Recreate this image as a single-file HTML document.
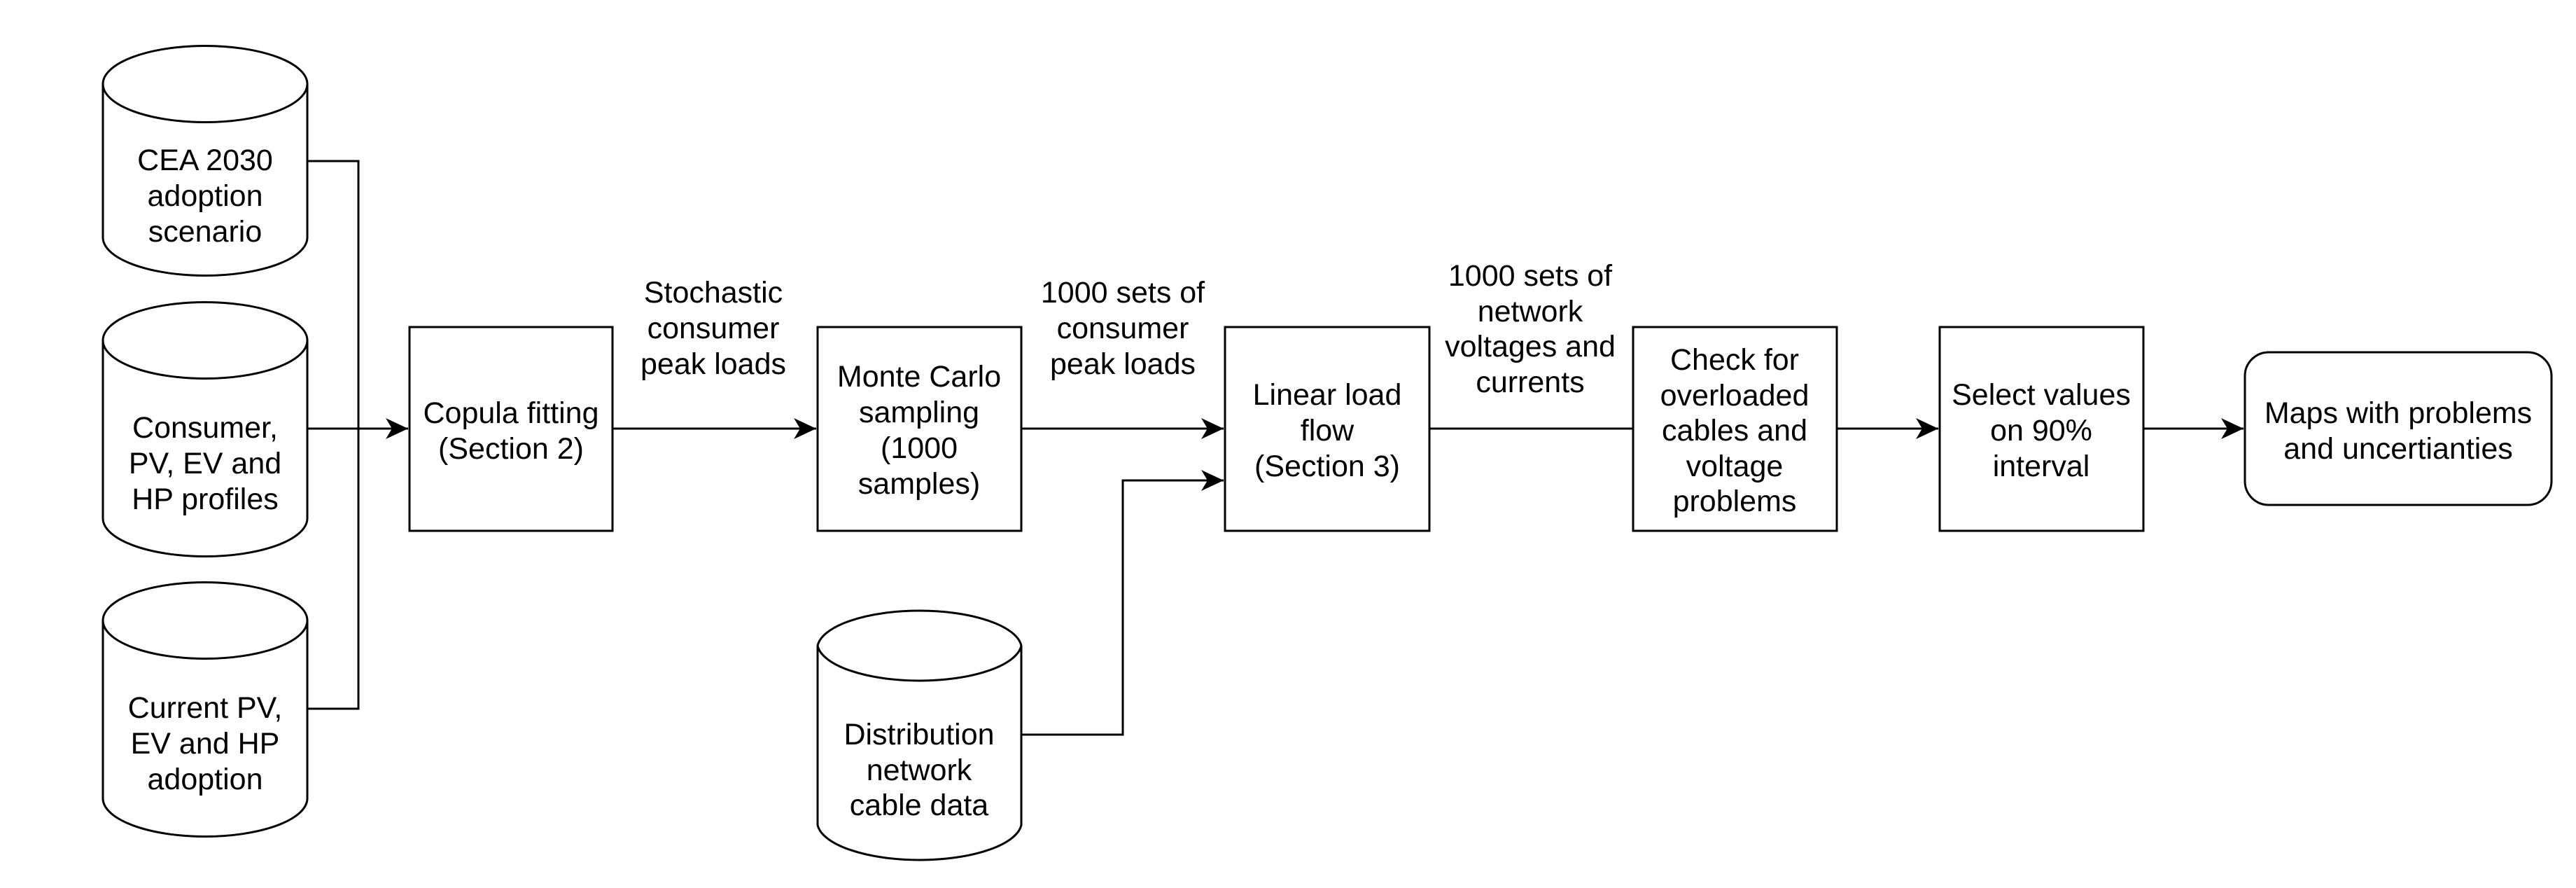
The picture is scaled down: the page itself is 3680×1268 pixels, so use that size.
<!DOCTYPE html>
<html><head><meta charset="utf-8"><style>
html,body{margin:0;padding:0;background:#fff;}
svg{display:block;}
text{font-family:"Liberation Sans",Arial,sans-serif;font-size:43px;fill:#000;text-anchor:middle;dominant-baseline:central;}
</style></head><body>
<svg width="3680" height="1268" viewBox="0 0 3680 1268" xmlns="http://www.w3.org/2000/svg">
<defs>
<marker id="a" markerUnits="userSpaceOnUse" markerWidth="34" markerHeight="30" refX="32" refY="15" orient="auto">
<path d="M0,0 L32,15 L0,30 L9,15 Z" fill="#000"/>
</marker>
</defs>
<g fill="#fff" stroke="#000" stroke-width="3">
<!-- cylinders -->
<path d="M147,120 A146,54.5 0 0 1 439,120 L439,339 A146,54.5 0 0 1 147,339 Z"/>
<path d="M147,120 A146,54.5 0 0 0 439,120"/>
<path d="M147,486 A146,54.5 0 0 1 439,486 L439,740 A146,54.5 0 0 1 147,740 Z"/>
<path d="M147,486 A146,54.5 0 0 0 439,486"/>
<path d="M147,886 A146,54.5 0 0 1 439,886 L439,1140 A146,54.5 0 0 1 147,1140 Z"/>
<path d="M147,886 A146,54.5 0 0 0 439,886"/>
<path d="M1168,922 A146,54.5 0 0 1 1459,922 L1459,1178 A146,54.5 0 0 1 1168,1178 Z"/>
<path d="M1168,922 A146,54.5 0 0 0 1459,922"/>
<!-- boxes -->
<rect x="585" y="467" width="290" height="291"/>
<rect x="1168" y="467" width="291" height="291"/>
<rect x="1750" y="467" width="292" height="291"/>
<rect x="2333" y="467" width="291" height="291"/>
<rect x="2771" y="467" width="291" height="291"/>
<rect x="3207" y="503" width="438" height="218" rx="34" ry="34"/>
</g>
<g fill="none" stroke="#000" stroke-width="3">
<path d="M439,230 H512 V1012 H439"/>
<path d="M439,612 H583" marker-end="url(#a)"/>
<path d="M875,612 H1166" marker-end="url(#a)"/>
<path d="M1459,612 H1748" marker-end="url(#a)"/>
<path d="M1459,1049 H1604 V686 H1748" marker-end="url(#a)"/>
<path d="M2042,612 H2333"/>
<path d="M2624,612 H2769" marker-end="url(#a)"/>
<path d="M3062,612 H3205" marker-end="url(#a)"/>
</g>
<text x="293" y="229">CEA 2030</text><text x="293" y="280">adoption</text><text x="293" y="331">scenario</text>
<text x="293" y="611">Consumer,</text><text x="293" y="662">PV, EV and</text><text x="293" y="713">HP profiles</text>
<text x="293" y="1011">Current PV,</text><text x="293" y="1062">EV and HP</text><text x="293" y="1113">adoption</text>
<text x="1313" y="1049">Distribution</text><text x="1313" y="1100">network</text><text x="1313" y="1150">cable data</text>
<text x="730" y="590">Copula fitting</text><text x="730" y="641">(Section 2)</text>
<text x="1313" y="538">Monte Carlo</text><text x="1313" y="589">sampling</text><text x="1313" y="640">(1000</text><text x="1313" y="691">samples)</text>
<text x="1896" y="564">Linear load</text><text x="1896" y="615">flow</text><text x="1896" y="666">(Section 3)</text>
<text x="2478" y="514">Check for</text><text x="2478" y="565">overloaded</text><text x="2478" y="615">cables and</text><text x="2478" y="666">voltage</text><text x="2478" y="716">problems</text>
<text x="2916" y="564">Select values</text><text x="2916" y="615">on 90%</text><text x="2916" y="666">interval</text>
<text x="3426" y="590">Maps with problems</text><text x="3426" y="641">and uncertianties</text>
<text x="1019" y="418">Stochastic</text><text x="1019" y="469">consumer</text><text x="1019" y="520">peak loads</text>
<text x="1604" y="418">1000 sets of</text><text x="1604" y="469">consumer</text><text x="1604" y="520">peak loads</text>
<text x="2186" y="394">1000 sets of</text><text x="2186" y="445">network</text><text x="2186" y="495">voltages and</text><text x="2186" y="546">currents</text>
</svg>
</body></html>
